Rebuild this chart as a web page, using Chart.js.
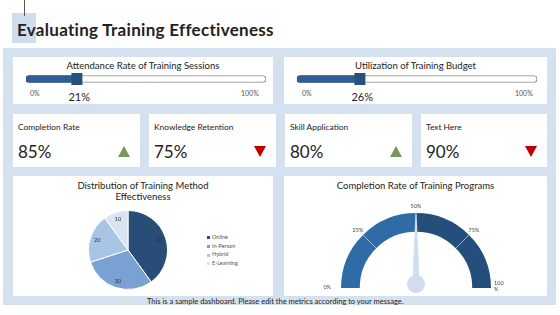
<!DOCTYPE html>
<html>
<head>
<meta charset="utf-8">
<script src="https://cdn.jsdelivr.net/npm/chart.js@4.4.0/dist/chart.umd.min.js"></script>
<style>
  body { margin: 0; width: 560px; height: 315px; background: #fff; position: relative; overflow: hidden;
         font-family: Lato, "Open Sans", sans-serif; color: #222; }
  .abs { position: absolute; }
  .panel { position: absolute; background: #fff; }
  .ptitle { position: absolute; left: 0; right: 0; text-align: center; font-size: 9.5px; }
  .small { position: absolute; font-size: 7px; color: #555; }
  .kpi-label { position: absolute; left: 5px; top: 8px; font-size: 8.4px; }
  .kpi-value { position: absolute; left: 5px; top: 27px; font-size: 17px; }
  .tri { position: absolute; width: 0; height: 0; border-left: 6px solid transparent; border-right: 6px solid transparent; }
  .tri.up { border-bottom: 11px solid #76985a; }
  .tri.down { border-top: 11px solid #c00000; }
  .legend { position: absolute; font-size: 5.5px; color: #555; line-height: 8.7px; }
  .legend span { display: inline-block; width: 3px; height: 3px; margin-right: 2px; vertical-align: middle; }
</style>
</head>
<body>
<div class="abs" style="left:12px;top:13px;width:24px;height:30px;background:#cfdded"></div>
<div class="abs" style="left:24px;top:0;width:1px;height:16px;background:#555"></div>
<div class="abs" style="left:17px;top:18px;font-size:17px;letter-spacing:0.3px;font-weight:bold;line-height:24px">Evaluating Training Effectiveness</div>
<div class="abs" style="left:3px;top:48px;width:553px;height:257px;background:#d4e2ef"></div>

<div id="progress"></div>
<div id="kpis"></div>

<div class="panel" style="left:13px;top:176px;width:260px;height:120px">
  <div class="ptitle" style="top:4px;line-height:11px">Distribution of Training Method<br>Effectiveness</div>
</div>
<div class="panel" style="left:284px;top:176px;width:263px;height:120px">
  <div class="ptitle" style="top:4px;line-height:11px">Completion Rate of Training Programs</div>
</div>
<div class="abs" style="left:86px;top:208px;width:84px;height:84px"><canvas id="pie"></canvas></div>
<div class="legend" id="legend" style="left:207px;top:233px"></div>
<div class="abs" style="left:316px;top:198px;width:200px;height:95px"><canvas id="gauge"></canvas></div>
<div class="abs" style="left:147px;top:296.5px;font-size:7.5px;color:#222;white-space:nowrap">This is a sample dashboard. Please edit the metrics according to your message.</div>

<script>
// Progress panels
const progressTitles = ["Attendance Rate of Training Sessions", "Utilization of Training Budget"];
const progressValues = [21, 26];
const progressTicks = ["0%", "100%"];

// KPI cards
const kpiLabels = ["Completion Rate", "Knowledge Retention", "Skill Application", "Text Here"];
const kpiValues = [85, 75, 80, 90];
const kpiTrends = ["up", "down", "up", "down"];

// Pie
const methodLabels = ["Online", "In-Person", "Hybrid", "E-Learning"];
const methodValues = [40, 30, 20, 10];
const methodColors = ["#284d77", "#79a1d2", "#aac4e5", "#d8e4f2"];

// Gauge
const gaugeBands = [50, 50];
const gaugeTicks = [0, 25, 50, 75, 100];
const gaugeValue = 50;

const panelX = [13, 284];
const panelW = [260, 263];

// build progress panels
const progressBox = document.getElementById("progress");
progressTitles.forEach((title, i) => {
  const x = panelX[i];
  progressBox.insertAdjacentHTML("beforeend", `
    <div class="panel" style="left:${x}px;top:57px;width:${panelW[i]}px;height:47px">
      <div class="ptitle" style="top:3px">${title}</div>
      <div class="small" style="left:${i ? 18 : 17}px;top:32px">${progressTicks[0]}</div>
      <div class="small" style="left:${panelW[i] - 32}px;top:32px">${progressTicks[1]}</div>
    </div>
    <div class="abs" style="left:${x + 7}px;top:70px;width:252px;height:18px"><canvas id="bar${i}"></canvas></div>
    <div class="abs" id="barlab${i}" style="top:90px;font-size:11px;color:#222"></div>`);
});

const handlePlugin = {
  id: "handle",
  afterDatasetsDraw(chart) {
    const ctx = chart.ctx;
    const val = chart.data.datasets[1].data[0];
    const px = chart.scales.x.getPixelForValue(val);
    const cy = (chart.chartArea.top + chart.chartArea.bottom) / 2;
    ctx.save();
    ctx.fillStyle = "#27507c";
    ctx.fillRect(px - 5, cy - 6, 11, 12);
    ctx.restore();
  }
};

progressValues.forEach((v, i) => {
  const chart = new Chart(document.getElementById("bar" + i), {
    type: "bar",
    data: {
      labels: [progressTitles[i]],
      datasets: [
        { data: [100], backgroundColor: "#fff", borderColor: "#8a8a8a", borderWidth: 1,
          borderRadius: 4, borderSkipped: false, order: 2, grouped: false },
        { data: [v], backgroundColor: "#2f5f92", borderWidth: 0,
          borderRadius: { topLeft: 4, bottomLeft: 4 }, borderSkipped: false, order: 1, grouped: false }
      ]
    },
    options: {
      indexAxis: "y",
      responsive: true,
      maintainAspectRatio: false,
      animation: false,
      layout: { padding: { left: 6, right: 6, top: 0, bottom: 0 } },
      datasets: { bar: { barThickness: 7 } },
      scales: {
        x: { display: false, min: 0, max: 100 },
        y: { display: false }
      },
      plugins: { legend: { display: false }, tooltip: { enabled: false } }
    },
    plugins: [handlePlugin]
  });
  const px = chart.scales.x.getPixelForValue(v) + panelX[i] + 7;
  const lab = document.getElementById("barlab" + i);
  lab.textContent = v + "%";
  lab.style.left = (px - lab.offsetWidth / 2 + 3) + "px";
});

// KPI cards
const cardX = [13, 149, 285, 421];
const cardW = [127, 127, 127, 126];
const kpiBox = document.getElementById("kpis");
kpiLabels.forEach((label, i) => {
  kpiBox.insertAdjacentHTML("beforeend", `
    <div class="panel" style="left:${cardX[i]}px;top:114px;width:${cardW[i]}px;height:53px">
      <div class="kpi-label">${label}</div>
      <div class="kpi-value">${kpiValues[i]}%</div>
      <div class="tri ${kpiTrends[i]}" style="left:${cardW[i] - 22}px;top:32px"></div>
    </div>`);
});

// pie labels
const pieLabelPlugin = {
  id: "pieLabels",
  afterDatasetsDraw(chart) {
    const ctx = chart.ctx;
    const meta = chart.getDatasetMeta(0);
    ctx.save();
    ctx.font = "5.5px Lato, sans-serif";
    ctx.fillStyle = "#333";
    ctx.textAlign = "center";
    ctx.textBaseline = "middle";
    meta.data.forEach((arc, k) => {
      const mid = (arc.startAngle + arc.endAngle) / 2;
      const r = arc.outerRadius * 0.82;
      ctx.fillText(chart.data.datasets[0].data[k], arc.x + Math.cos(mid) * r, arc.y + Math.sin(mid) * r);
    });
    ctx.restore();
  }
};

new Chart(document.getElementById("pie"), {
  type: "pie",
  data: {
    labels: methodLabels,
    datasets: [{ data: methodValues, backgroundColor: methodColors, borderColor: "#fff", borderWidth: 1 }]
  },
  options: {
    responsive: true,
    maintainAspectRatio: false,
    animation: false,
    layout: { padding: 2 },
    plugins: { legend: { display: false }, tooltip: { enabled: false } }
  },
  plugins: [pieLabelPlugin]
});

document.getElementById("legend").innerHTML = methodLabels
  .map((l, k) => `<div><span style="background:${methodColors[k]}"></span>${l}</div>`)
  .join("");

// gauge extras: ticks, labels, needle
const gaugePlugin = {
  id: "gaugeExtras",
  afterDatasetsDraw(chart) {
    const ctx = chart.ctx;
    const arc = chart.getDatasetMeta(0).data[0];
    const cx = arc.x, cy = arc.y, ro = arc.outerRadius, ri = arc.innerRadius;
    const ang = (v) => Math.PI + (v / 100) * Math.PI;
    ctx.save();
    // tick marks at 25 / 75
    ctx.strokeStyle = "rgba(200,218,238,0.7)";
    ctx.lineWidth = 1;
    [25, 75].forEach((v) => {
      const a = ang(v);
      ctx.beginPath();
      ctx.moveTo(cx + Math.cos(a) * ri, cy + Math.sin(a) * ri);
      ctx.lineTo(cx + Math.cos(a) * ro, cy + Math.sin(a) * ro);
      ctx.stroke();
    });
    // tick labels
    ctx.font = "5.5px Lato, sans-serif";
    ctx.fillStyle = "#444";
    ctx.textBaseline = "middle";
    gaugeTicks.forEach((v) => {
      const a = ang(v);
      if (v === 0) {
        ctx.textAlign = "right";
        ctx.fillText(v + "%", cx - ro - 10, cy - 1);
      } else if (v === 100) {
        ctx.textAlign = "left";
        ctx.fillText(String(v), cx + ro + 3, cy - 5);
        ctx.fillText("%", cx + ro + 3, cy + 1);
      } else {
        ctx.textAlign = "center";
        ctx.fillText(v + "%", cx + Math.cos(a) * 82, cy + Math.sin(a) * 82);
      }
    });
    // needle
    const a = ang(gaugeValue);
    const tipR = ro - 2;
    const bx = cx, by = cy - 4;
    const nx = Math.cos(a), ny = Math.sin(a);
    ctx.fillStyle = "#cfddee";
    ctx.beginPath();
    ctx.moveTo(bx + nx * tipR - ny * 0.5, by + ny * tipR + nx * 0.5);
    ctx.lineTo(bx + nx * tipR + ny * 0.5, by + ny * tipR - nx * 0.5);
    ctx.lineTo(bx + ny * 3.5, by - nx * 3.5);
    ctx.lineTo(bx - ny * 3.5, by + nx * 3.5);
    ctx.closePath();
    ctx.fill();
    ctx.beginPath();
    ctx.arc(bx, by, 9, 0, Math.PI * 2);
    ctx.fill();
    ctx.restore();
  }
};

new Chart(document.getElementById("gauge"), {
  type: "doughnut",
  data: {
    labels: ["0-50", "50-100"],
    datasets: [{ data: gaugeBands, backgroundColor: ["#2f6ba7", "#244f7c"], borderWidth: 0 }]
  },
  options: {
    responsive: true,
    maintainAspectRatio: false,
    animation: false,
    rotation: -90,
    circumference: 180,
    cutout: "75%",
    layout: { padding: { left: 25, right: 25, top: 15, bottom: 5 } },
    plugins: { legend: { display: false }, tooltip: { enabled: false } }
  },
  plugins: [gaugePlugin]
});
</script>
</body>
</html>
